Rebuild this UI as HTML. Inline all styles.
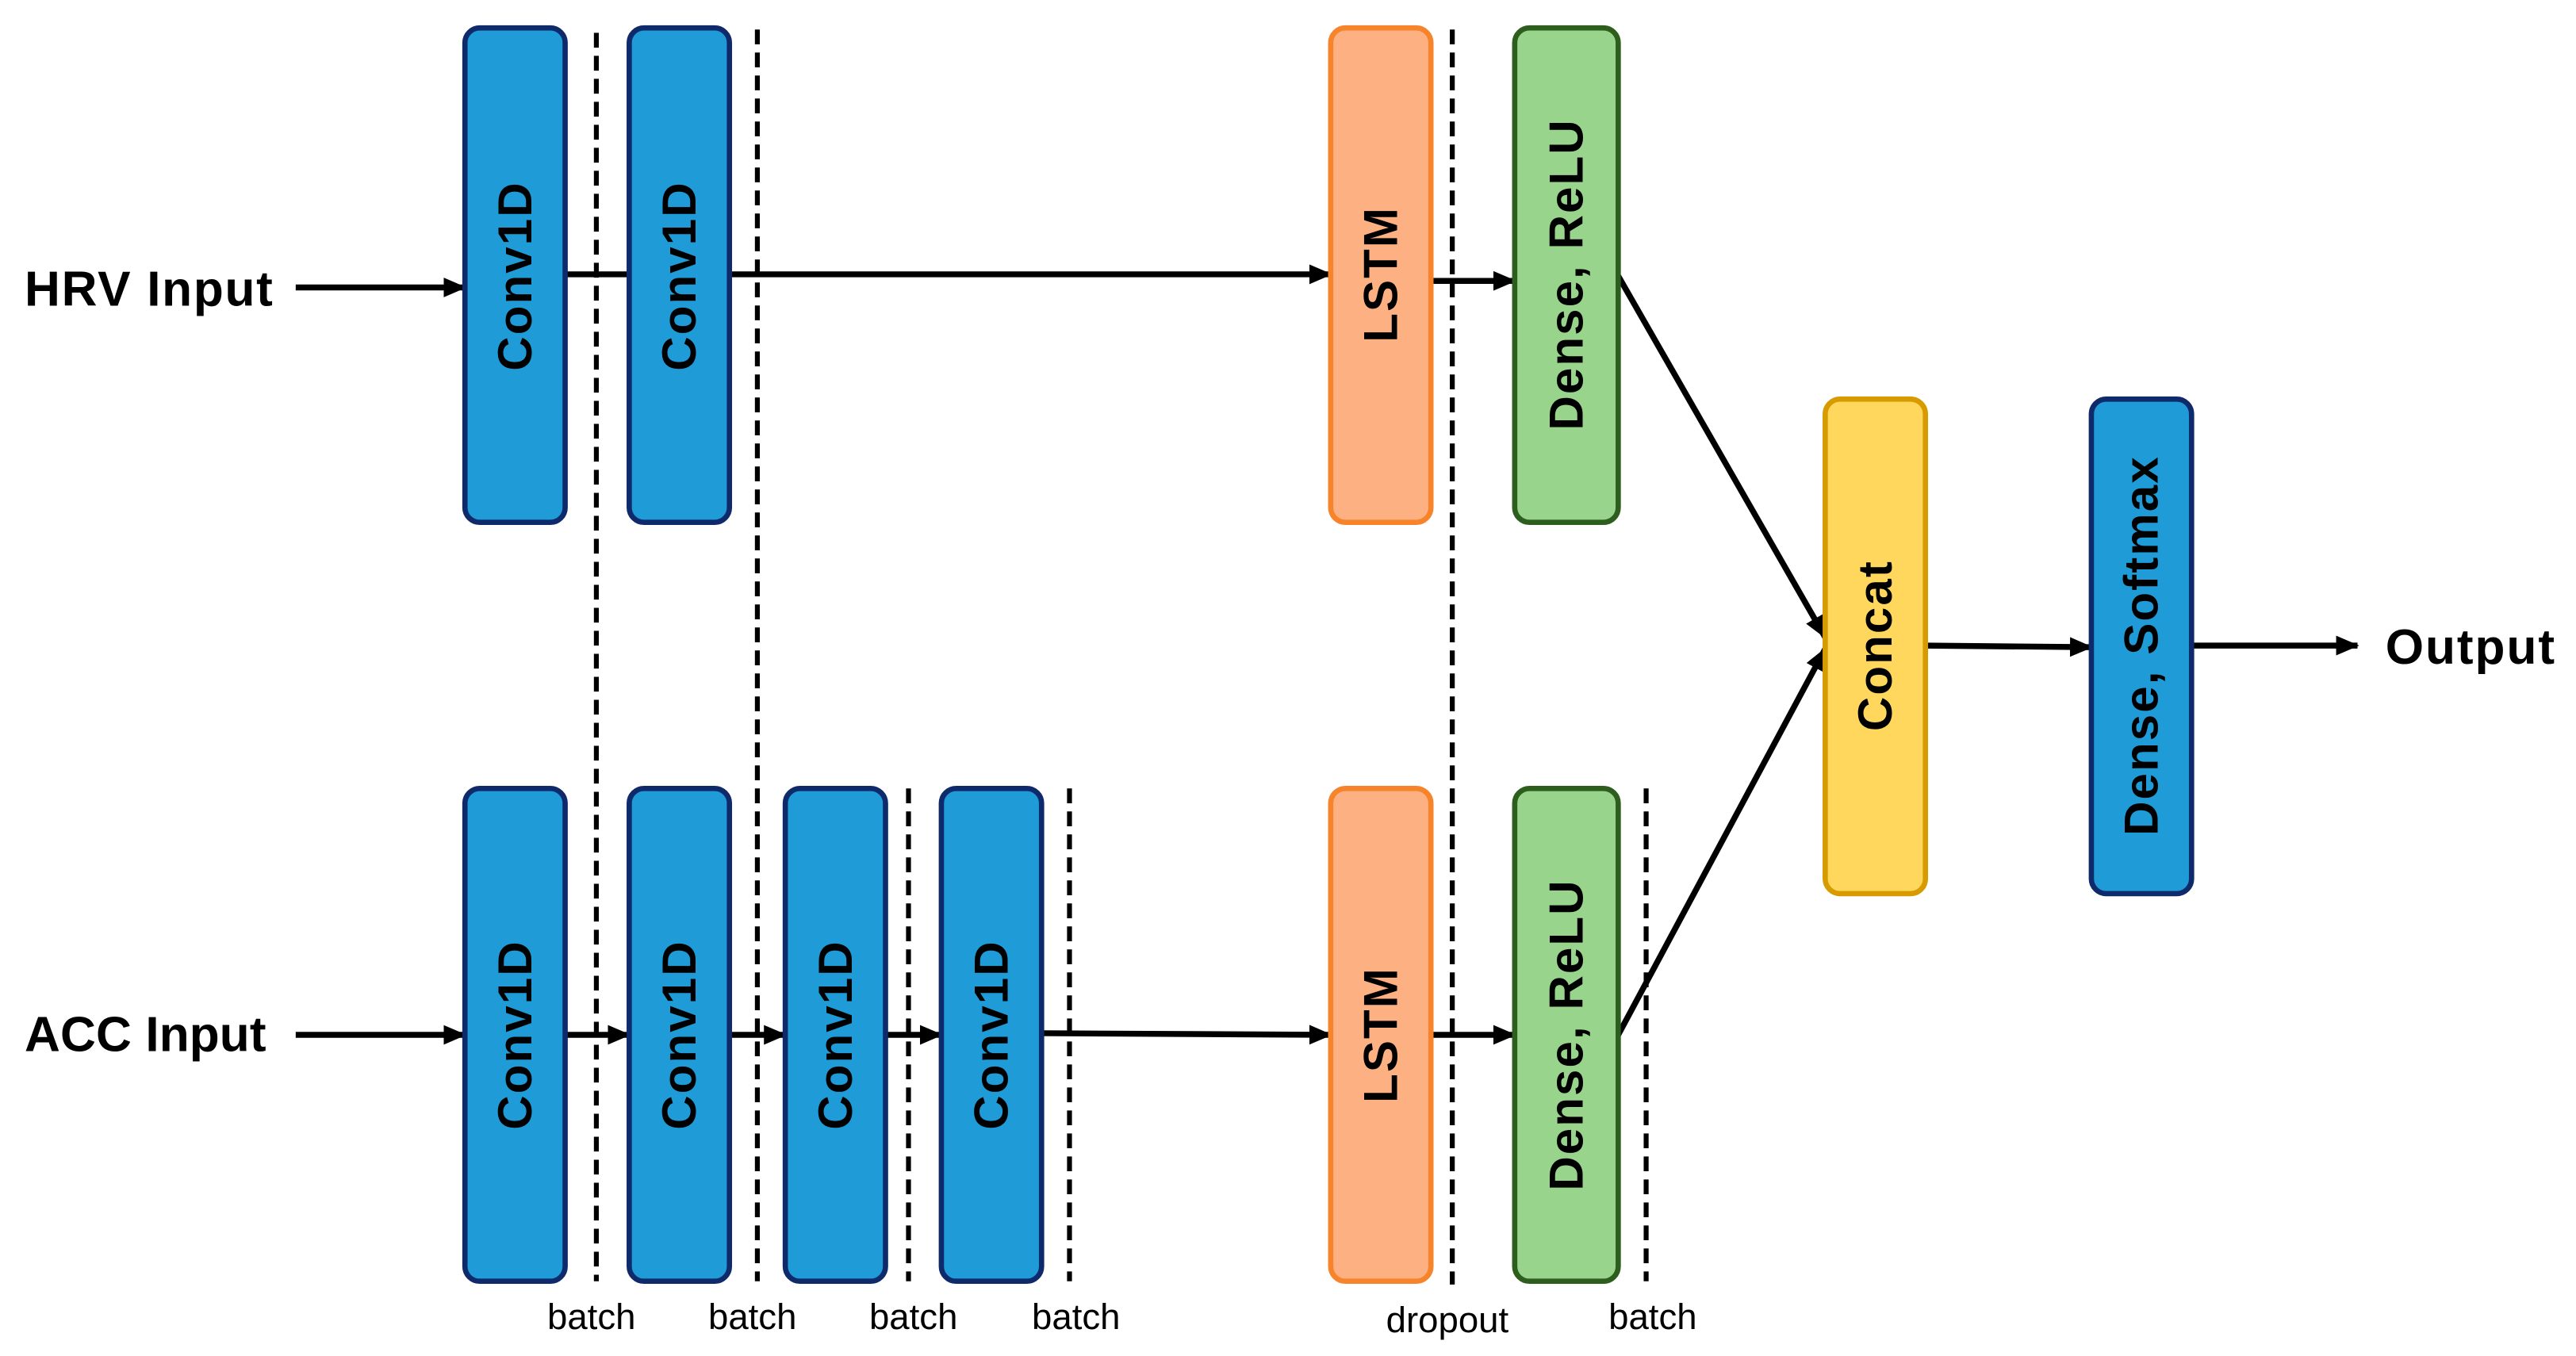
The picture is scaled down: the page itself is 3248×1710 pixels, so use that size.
<!DOCTYPE html>
<html><head><meta charset="utf-8"><style>html,body{margin:0;padding:0;background:#fff}svg{display:block}</style></head>
<body>
<svg width="3248" height="1710" viewBox="0 0 1568 825.5" preserveAspectRatio="none" xmlns="http://www.w3.org/2000/svg">
<defs>
<marker id="b" markerWidth="14" markerHeight="12" refX="13" refY="6" orient="auto" markerUnits="userSpaceOnUse" viewBox="0 0 14 12"><path d="M0,0 L14,6 L0,12 z" fill="#000"/></marker>
</defs>
<g stroke="#000" stroke-width="3" stroke-dasharray="9,5" fill="none">
<line x1="363" y1="20" x2="363" y2="780"/>
<line x1="461" y1="18" x2="461" y2="780"/>
<line x1="553" y1="480" x2="553" y2="780"/>
<line x1="651" y1="480" x2="651" y2="780"/>
<line x1="884" y1="18" x2="884" y2="782"/>
<line x1="1002" y1="480" x2="1002" y2="780"/>
</g>
<g stroke="#000" stroke-width="3.6" fill="none">
<line x1="180" y1="175" x2="283" y2="175" marker-end="url(#b)"/>
<line x1="344" y1="167" x2="383" y2="167"/>
<line x1="444" y1="167" x2="810" y2="167" marker-end="url(#b)"/>
<line x1="871" y1="171" x2="922" y2="171" marker-end="url(#b)"/>
<line x1="985" y1="168" x2="1111" y2="388" marker-end="url(#b)"/>
<line x1="985" y1="630" x2="1111" y2="395" marker-end="url(#b)"/>
<line x1="1172" y1="393" x2="1273" y2="394" marker-end="url(#b)"/>
<line x1="1334" y1="393" x2="1435" y2="393" marker-end="url(#b)"/>
<line x1="180" y1="630" x2="283" y2="630" marker-end="url(#b)"/>
<line x1="344" y1="630" x2="383" y2="630" marker-end="url(#b)"/>
<line x1="444" y1="630" x2="478" y2="630" marker-end="url(#b)"/>
<line x1="539" y1="630" x2="573" y2="630" marker-end="url(#b)"/>
<line x1="634" y1="629" x2="810" y2="630" marker-end="url(#b)"/>
<line x1="871" y1="630" x2="922" y2="630" marker-end="url(#b)"/>
</g>
<g stroke-width="3.2">
<g fill="#1F9BD7" stroke="#0E2A6B">
<rect x="283" y="17" width="61" height="301" rx="9"/>
<rect x="383" y="17" width="61" height="301" rx="9"/>
<rect x="283" y="480" width="61" height="300" rx="9"/>
<rect x="383" y="480" width="61" height="300" rx="9"/>
<rect x="478" y="480" width="61" height="300" rx="9"/>
<rect x="573" y="480" width="61" height="300" rx="9"/>
<rect x="1273" y="243" width="61" height="301" rx="9"/>
</g>
<g fill="#FDB183" stroke="#F7832A">
<rect x="810" y="17" width="61" height="301" rx="9"/>
<rect x="810" y="480" width="61" height="300" rx="9"/>
</g>
<g fill="#98D48C" stroke="#2E5E1E">
<rect x="922" y="17" width="63" height="301" rx="9"/>
<rect x="922" y="480" width="63" height="300" rx="9"/>
</g>
<rect x="1111" y="243" width="61" height="301" rx="9" fill="#FFD75C" stroke="#D79B00"/>
</g>
<g font-family="'Liberation Sans',sans-serif" font-weight="bold" font-size="29" letter-spacing="1" fill="#000" text-anchor="middle" dominant-baseline="central">
<text transform="translate(313.5,168) rotate(-90)">Conv1D</text>
<text transform="translate(413.5,168) rotate(-90)">Conv1D</text>
<text transform="translate(313.5,630) rotate(-90)">Conv1D</text>
<text transform="translate(413.5,630) rotate(-90)">Conv1D</text>
<text transform="translate(508.5,630) rotate(-90)">Conv1D</text>
<text transform="translate(603.5,630) rotate(-90)">Conv1D</text>
<text transform="translate(840.5,167) rotate(-90)">LSTM</text>
<text transform="translate(840.5,630) rotate(-90)">LSTM</text>
<text transform="translate(953.5,167) rotate(-90)">Dense,  ReLU</text>
<text transform="translate(953.5,630) rotate(-90)">Dense,  ReLU</text>
<text transform="translate(1141.5,393) rotate(-90)">Concat</text>
<text transform="translate(1303.5,393) rotate(-90)">Dense,  Softmax</text>
</g>
<g font-family="'Liberation Sans',sans-serif" font-weight="bold" font-size="30" fill="#000">
<text x="15" y="186" textLength="151">HRV Input</text>
<text x="15" y="640" textLength="147">ACC Input</text>
<text x="1452" y="404" textLength="103">Output</text>
</g>
<g font-family="'Liberation Sans',sans-serif" font-size="22" fill="#000" text-anchor="middle">
<text x="360" y="809">batch</text>
<text x="458" y="809">batch</text>
<text x="556" y="809">batch</text>
<text x="655" y="809">batch</text>
<text x="881" y="811">dropout</text>
<text x="1006" y="809">batch</text>
</g>
</svg>
</body></html>
